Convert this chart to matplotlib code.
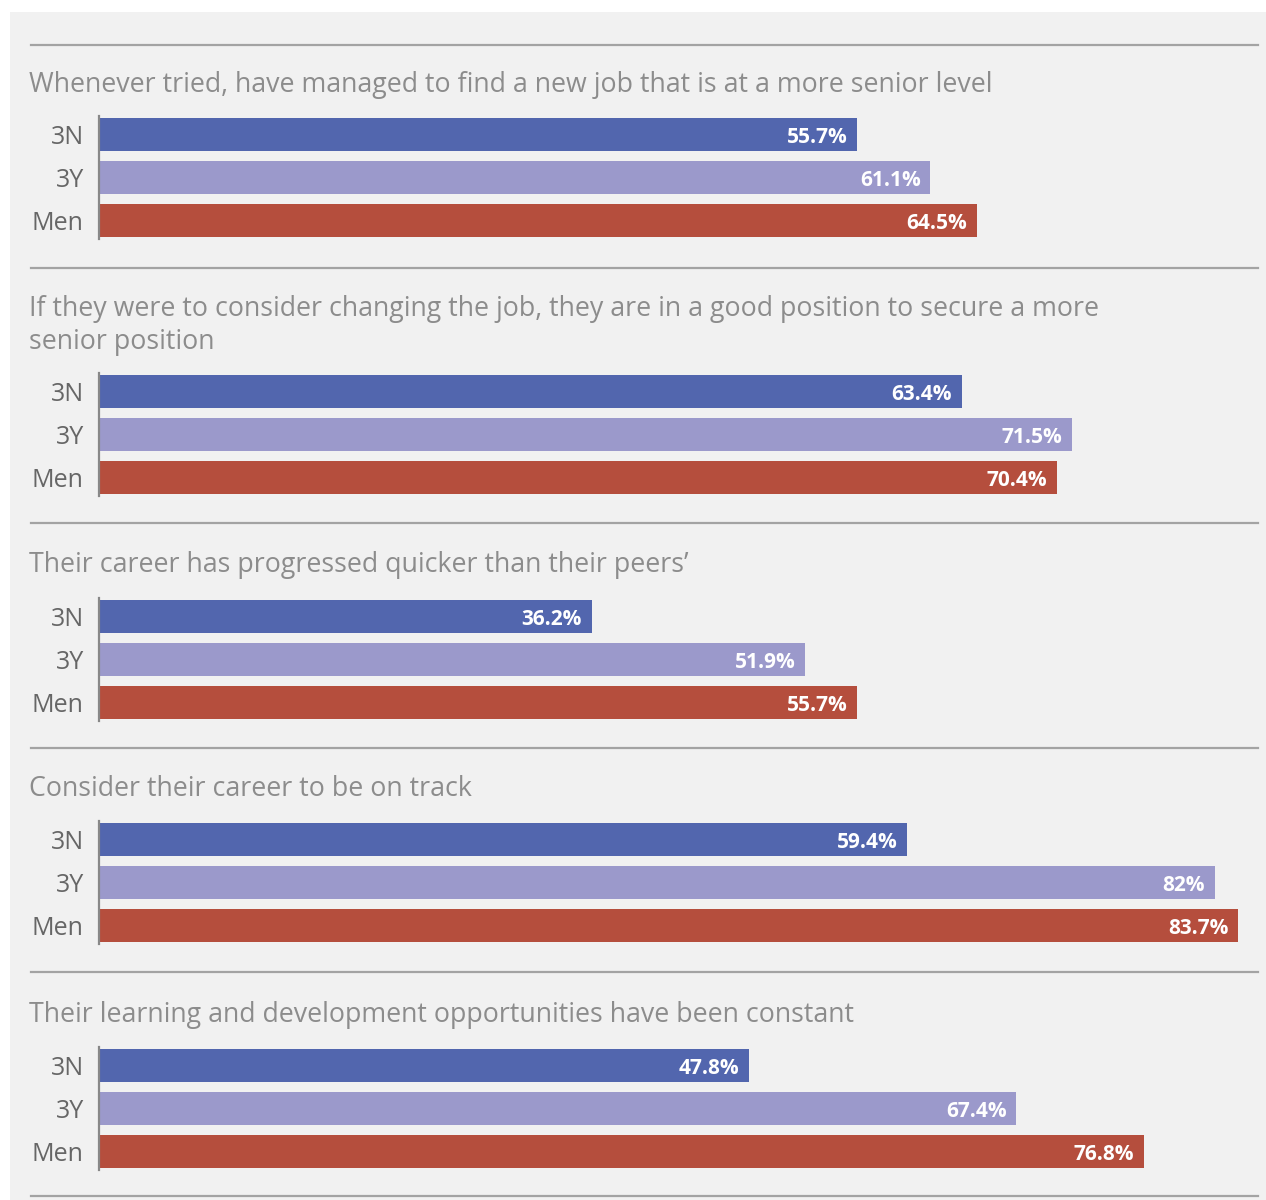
import matplotlib
matplotlib.use("Agg")
import matplotlib.pyplot as plt
from matplotlib.patches import Rectangle
from matplotlib.lines import Line2D

plt.rcParams['font.family'] = ['Open Sans', 'DejaVu Sans']

# data
questions = [
    "Whenever tried, have managed to find a new job that is at a more senior level",
    "If they were to consider changing the job, they are in a good position to secure a more\nsenior position",
    "Their career has progressed quicker than their peers\u2019",
    "Consider their career to be on track",
    "Their learning and development opportunities have been constant",
]
groups = ["3N", "3Y", "Men"]
vals_3n = [55.7, 63.4, 36.2, 59.4, 47.8]
vals_3y = [61.1, 71.5, 51.9, 82.0, 67.4]
vals_men = [64.5, 70.4, 55.7, 83.7, 76.8]
colors = ["#5266ae", "#9b99cb", "#b54e3d"]

W, H = 1266, 1200
fig = plt.figure(figsize=(W / 100, H / 100), dpi=100, facecolor="white")

def fx(x):
    return x / W

def fy(y):
    return 1 - y / H

# gray panel
fig.patches.append(Rectangle((fx(10), 0), 1 - fx(10), fy(12), transform=fig.transFigure,
                             facecolor="#f1f1f1", edgecolor="none", zorder=-5))

# layout in pixels
sep_y = [45, 268, 523, 748, 972, 1196]
title_y = [85, 325.5, 565, 789, 1015]
first_bar_c = [134.5, 391.5, 616.5, 839.5, 1065.5]
pitch = 43
x0, x1 = 99, 1258
px_per_pct = 13.607

for y in sep_y:
    fig.add_artist(Line2D([fx(31), fx(1258)], [fy(y), fy(y)], transform=fig.transFigure,
                          color="#a3a3a3", lw=1.6))

for i, q in enumerate(questions):
    fig.text(fx(29), fy(title_y[i]), q, fontsize=19.3, color="#8c8c8c",
             va="center", ha="left", linespacing=1.2)
    top = first_bar_c[i] - pitch / 2
    ax = fig.add_axes([fx(x0), fy(top + 3 * pitch), (x1 - x0) / W, 3 * pitch / H])
    ax.set_facecolor("none")
    vals = [vals_3n[i], vals_3y[i], vals_men[i]]
    bars = ax.barh(range(3), vals, height=33 / pitch, color=colors)
    ax.set_xlim(0, (x1 - x0) / px_per_pct)
    ax.set_ylim(2.5, -0.5)
    for s in ["top", "right", "bottom"]:
        ax.spines[s].set_visible(False)
    ax.spines["left"].set_color("#888888")
    ax.spines["left"].set_linewidth(1.6)
    ax.spines["left"].set_bounds(-0.43, 2.43)
    ax.set_xticks([])
    ax.set_yticks(range(3))
    ax.set_yticklabels(groups, fontsize=18, color="#666666")
    ax.tick_params(axis="y", length=0, pad=11)
    for b, v in zip(bars, vals):
        lab = f"{v:g}%"
        ax.annotate(lab, (v, b.get_y() + b.get_height() / 2), xytext=(-7, -2),
                    textcoords="offset points", ha="right", va="center",
                    color="white", fontsize=15, fontweight="bold")

fig.savefig("out.png", dpi=100, facecolor="white")
